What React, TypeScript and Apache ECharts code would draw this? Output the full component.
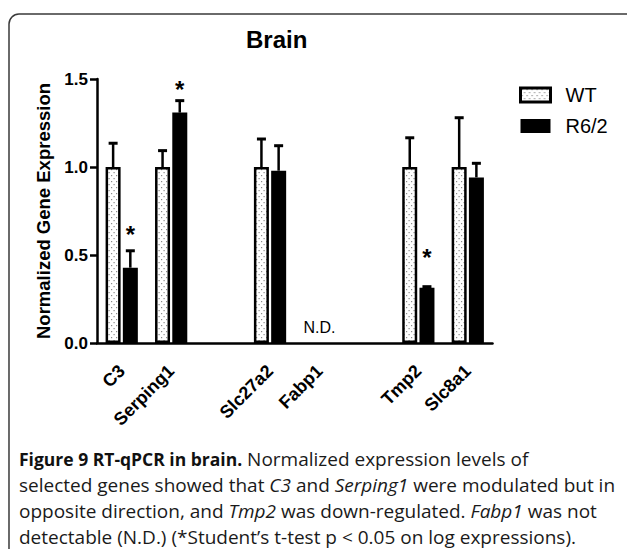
import React, { useEffect, useRef } from 'react';
import * as echarts from 'echarts';

const categories = ['C3', 'Serping1', '', 'Slc27a2', 'Fabp1', ' ', 'Tmp2', 'Slc8a1'];
const seriesNames = ['WT', 'R6/2'];
const wtMean = [1.0, 1.0, null, 1.0, null, null, 1.0, 1.0];
const wtErr = [0.135, 0.093, null, 0.159, null, null, 0.166, 0.28];
const r62Mean = [0.428, 1.309, null, 0.979, null, null, 0.314, 0.941];
const r62Err = [0.096, 0.068, null, 0.142, null, null, 0.006, 0.08];
const starLevel = [0.648, 1.477, null, null, null, null, 0.519, null];
const ndLevel = [null, null, null, null, 0.09, null, null, null];
const yMin = 0;
const yMax = 1.5;
const yStep = 0.5;

const title = 'Brain';
const yName = 'Normalized Gene Expression';
const captionLines = [
  '{b|Figure 9 RT-qPCR in brain.} Normalized expression levels of',
  'selected genes showed that {i|C3} and {i|Serping1} were modulated but in',
  'opposite direction, and {i|Tmp2} was down-regulated. {i|Fabp1} was not',
  'detectable (N.D.) (*Student\u2019s t-test p < 0.05 on log expressions).',
];

const AR = "'Liberation Sans', Arial, Helvetica, sans-serif";
const CAP = "'Open Sans', 'Noto Sans', sans-serif";

function makePattern() {
  const c = document.createElement('canvas');
  c.width = 5;
  c.height = 6;
  const ctx = c.getContext('2d')!;
  ctx.fillStyle = '#ffffff';
  ctx.fillRect(0, 0, 5, 6);
  ctx.fillStyle = '#8a8a8a';
  ctx.fillRect(1, 1, 1.2, 1.2);
  ctx.fillRect(3.5, 4, 1.2, 1.2);
  return { image: c, repeat: 'repeat' };
}

export default function App() {
  const ref = useRef<HTMLDivElement>(null);
  useEffect(() => {
    if (!ref.current) return;
    const chart = echarts.init(ref.current, null, { renderer: 'svg' });
    const pattern: any = makePattern();
    const OFF = 8.6;

    const errData: any[] = [];
    wtMean.forEach((m, i) => {
      if (m != null && wtErr[i] != null) errData.push([i, m, m + (wtErr[i] as number), -1]);
    });
    r62Mean.forEach((m, i) => {
      if (m != null && r62Err[i] != null) errData.push([i, m, m + (r62Err[i] as number), 1]);
    });
    const annData: any[] = [];
    starLevel.forEach((v, i) => {
      if (v != null) annData.push([i, v, 1, 1]);
    });
    ndLevel.forEach((v, i) => {
      if (v != null) annData.push([i, v, 0, 0]);
    });

    const option: any = {
      animation: false,
      backgroundColor: '#ffffff',
      title: {
        text: title,
        left: 246,
        top: 27,
        padding: 0,
        textStyle: { fontFamily: AR, fontSize: 24, fontWeight: 'bold', color: '#000' },
      },
      legend: {
        data: [
          { name: 'WT', icon: 'rect', itemStyle: { color: pattern, borderColor: '#000', borderWidth: 3 } },
          { name: 'R6/2', icon: 'rect', itemStyle: { color: '#000', borderWidth: 0 } },
        ],
        orient: 'vertical',
        left: 519,
        top: 85,
        padding: 0,
        itemWidth: 30,
        itemHeight: 14,
        itemGap: 11,
        selectedMode: false,
        textStyle: { fontFamily: AR, fontSize: 20, color: '#000', padding: [0, 0, 0, 10] },
      },
      grid: { left: 97, right: 134.5, top: 79, bottom: 206, containLabel: false, outerBoundsMode: 'none' },
      xAxis: {
        type: 'category',
        data: categories,
        boundaryGap: true,
        axisLine: { lineStyle: { color: '#000', width: 2.5 } },
        axisTick: { alignWithLabel: true, interval: 0, length: 8, lineStyle: { color: '#000', width: 2.5 } },
        axisLabel: {
          interval: 0,
          rotate: 45,
          margin: 25,
          fontFamily: AR,
          fontSize: 18,
          fontWeight: 'bold',
          color: '#000',
        },
        splitLine: { show: false },
      },
      yAxis: {
        type: 'value',
        min: yMin,
        max: yMax,
        interval: yStep,
        name: yName,
        nameLocation: 'middle',
        nameGap: 32,
        nameTextStyle: { fontFamily: AR, fontSize: 18.5, fontWeight: 'bold', color: '#000' },
        axisLine: { show: true, lineStyle: { color: '#000', width: 2.5 } },
        axisTick: { show: true, length: 7, lineStyle: { color: '#000', width: 2.5 } },
        axisLabel: {
          margin: 9,
          fontFamily: AR,
          fontSize: 17,
          fontWeight: 'bold',
          color: '#000',
          formatter: (v: number) => v.toFixed(1),
        },
        splitLine: { show: false },
      },
      series: [
        {
          name: seriesNames[0],
          type: 'bar',
          data: wtMean,
          barWidth: 15,
          barGap: '15%',
          itemStyle: { color: pattern, borderColor: '#000', borderWidth: 2.5 },
        },
        {
          name: seriesNames[1],
          type: 'bar',
          data: r62Mean,
          barWidth: 15,
          barGap: '15%',
          itemStyle: { color: '#000' },
        },
        {
          name: 'errors',
          type: 'custom',
          data: errData,
          z: 5,
          renderItem: (params: any, api: any) => {
            const cat = api.value(0);
            const base = api.coord([cat, api.value(1)]);
            const top = api.coord([cat, api.value(2)]);
            const x = base[0] + api.value(3) * OFF;
            return {
              type: 'group',
              children: [
                { type: 'line', shape: { x1: x, y1: base[1], x2: x, y2: top[1] }, style: { stroke: '#000', lineWidth: 2.5 } },
                { type: 'line', shape: { x1: x - 4.5, y1: top[1], x2: x + 4.5, y2: top[1] }, style: { stroke: '#000', lineWidth: 3 } },
              ],
            };
          },
        },
        {
          name: 'annotations',
          type: 'custom',
          data: annData,
          z: 6,
          renderItem: (params: any, api: any) => {
            const cat = api.value(0);
            const p = api.coord([cat, api.value(1)]);
            const isStar = api.value(2) === 1;
            const x = p[0] + api.value(3) * OFF;
            return {
              type: 'text',
              x: x,
              y: isStar ? p[1] + 6 : p[1],
              style: {
                text: isStar ? '*' : 'N.D.',
                fill: '#000',
                font: isStar ? `bold 24px ${AR}` : `16px ${AR}`,
                align: 'center',
                verticalAlign: 'middle',
              },
            };
          },
        },
      ],
      graphic: [
        {
          type: 'rect',
          z: -10,
          shape: { x: 9, y: 14, width: 660, height: 580, r: 10 },
          style: { fill: 'none', stroke: '#3a3a3a', lineWidth: 1.5 },
          silent: true,
        },
        ...captionLines.map((t, i) => ({
          type: 'text',
          x: 19,
          y: 459 + i * 26,
          style: {
            text: t,
            fill: '#1a1a1a',
            font: `19px ${CAP}`,
            lineHeight: 20,
            align: 'left',
            verticalAlign: 'middle',
            rich: {
              b: { fontWeight: 'bold', fontFamily: CAP, fontSize: 17.5, fill: '#111', lineHeight: 20 },
              i: { fontStyle: 'italic', fontFamily: CAP, fontSize: 19, fill: '#1a1a1a', lineHeight: 20 },
            },
          },
        })),
      ],
    };
    chart.setOption(option);
    return () => chart.dispose();
  }, []);
  return <div ref={ref} style={{ position: 'fixed', left: 0, top: 0, width: 627, height: 549 }} />;
}
